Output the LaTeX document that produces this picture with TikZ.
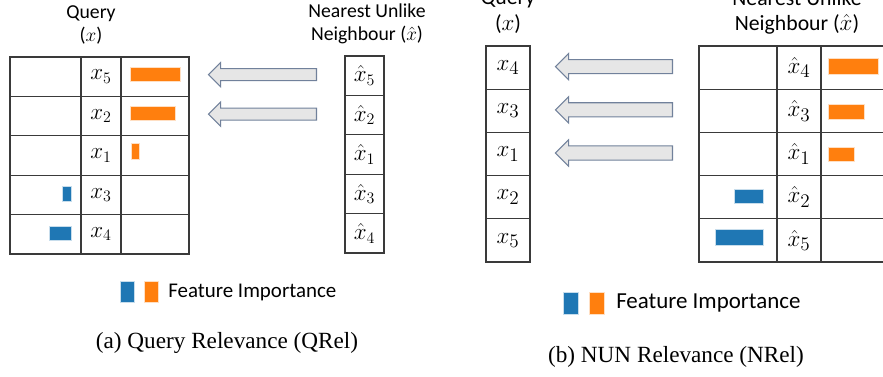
\documentclass[tikz,border=0pt]{standalone}
\usepackage{amsmath}
\usepackage{fontspec}
\setmainfont{Carlito}
\newfontfamily\capfont{Liberation Serif}
\usetikzlibrary{shapes.arrows,calc}
\definecolor{impBlue}{HTML}{1F77B4}
\definecolor{impOrange}{HTML}{FF7F0E}
\definecolor{arrFill}{HTML}{E6E6E6}
\definecolor{arrLine}{HTML}{71819B}
\definecolor{gridLine}{HTML}{3A3A3A}

\begin{document}
\begin{tikzpicture}[x=0.75pt,y=-0.75pt,
  cell/.style={draw=gridLine,line width=0.9pt,anchor=north west,inner sep=0pt,outer sep=0pt},
  fatarrow/.style={single arrow,draw=arrLine,fill=arrFill,line width=0.8pt,shape border rotate=180,
    inner xsep=0pt,single arrow head extend=4.6pt,anchor=tail},
  impbar/.style={fill=#1,draw=#1!25,line width=0.6pt},
  headA/.style={align=center,font=\fontsize{14.8}{17}\selectfont},
  headB/.style={align=center,font=\fontsize{16.3}{19}\selectfont},
  capt/.style={font=\capfont\fontsize{17.4}{20}\selectfont}]
  \useasboundingbox (0,0) rectangle (883,376);
  \clip (0,0) rectangle (883,376);

  % (a) query relevance
  \node[headA] (qa-head) at (91,25) {Query\\($x$)};
  \node[headA] (na-head) at (367,24) {Nearest Unlike\\Neighbour ($\hat{x}$)};
  \foreach \f [count=\i] in {5,2,1,3,4} {
    \node[cell,minimum width=53.25pt,minimum height=29.55pt] (qa-l\i) at (10,{57+(\i-1)*39.4}) {};
    \node[cell,minimum width=30pt,minimum height=29.55pt,font=\fontsize{17.5}{17}\selectfont] (qa-\i) at (81,{57+(\i-1)*39.4}) {$x_{\f}$};
    \node[cell,minimum width=51pt,minimum height=29.55pt] (qa-r\i) at (121,{57+(\i-1)*39.4}) {};
    \node[cell,minimum width=29.25pt,minimum height=29.55pt,font=\fontsize{17.5}{17}\selectfont] (na-\i) at (345,{56+(\i-1)*39.4}) {$\hat{x}_{\f}$};
  }
  \draw[impbar=impOrange] (130,67) rectangle (180,81);
  \draw[impbar=impOrange] (130,106) rectangle (175,120);
  \draw[impbar=impOrange] (131,143) rectangle (139,159);
  \draw[impbar=impBlue] (62,186) rectangle (71,201);
  \draw[impbar=impBlue] (49,226) rectangle (71,240);
  \node[fatarrow,inner ysep=4.1pt,minimum height=81pt] (arrA1) at ($(na-1.west)+(-28,-1)$) {};
  \node[fatarrow,inner ysep=4.1pt,minimum height=81pt] (arrA2) at ($(na-2.west)+(-28,-1)$) {};
  % legend (a)
  \draw[impbar=impBlue] (120,281) rectangle (134,302);
  \draw[impbar=impOrange] (144,281) rectangle (158,302);
  \node[anchor=west,inner sep=0pt,font=\fontsize{15.7}{18}\selectfont] (legA) at (168,292) {Feature Importance};
  \node[capt] (capA) at (227,343) {(a)\ Query\ Relevance\ (QRel)};

  % (b) NUN relevance
  \node[headB] (qb-head) at (508,12) {Query\\($x$)};
  \node[headB] (nb-head) at (797,12) {Nearest Unlike\\Neighbour ($\hat{x}$)};
  \foreach \f [count=\i] in {4,3,1,2,5} {
    \node[cell,minimum width=33pt,minimum height=32.4pt,font=\fontsize{19}{19}\selectfont] (qb-\i) at (486,{46+(\i-1)*43.2}) {$x_{\f}$};
    \node[cell,minimum width=58.5pt,minimum height=32.4pt] (nb-l\i) at (699,{46+(\i-1)*43.2}) {};
    \node[cell,minimum width=33pt,minimum height=32.4pt,font=\fontsize{19}{19}\selectfont] (nb-\i) at (777,{46+(\i-1)*43.2}) {$\hat{x}_{\f}$};
    \node[cell,minimum width=52.5pt,minimum height=32.4pt] (nb-r\i) at (821,{46+(\i-1)*43.2}) {};
  }
  \draw[impbar=impOrange] (828,58) rectangle (878,74);
  \draw[impbar=impOrange] (828,104) rectangle (864,119);
  \draw[impbar=impOrange] (828,147) rectangle (854,161);
  \draw[impbar=impBlue] (734,189) rectangle (763,203);
  \draw[impbar=impBlue] (715,229) rectangle (763,245);
  \foreach \i in {1,2,3}
    \node[fatarrow,inner ysep=4.9pt,minimum height=87.75pt] (arrB\i) at ($(nb-l\i.west)+(-26,-1)$) {};
  % legend (b)
  \draw[impbar=impBlue] (563,292) rectangle (578,314);
  \draw[impbar=impOrange] (589,292) rectangle (604,314);
  \node[anchor=west,inner sep=0pt,font=\fontsize{17.2}{20}\selectfont] (legB) at (616,303) {Feature Importance};
  \node[capt] (capB) at (676,357) {(b)\ NUN\ Relevance\ (NRel)};
\end{tikzpicture}
\end{document}
